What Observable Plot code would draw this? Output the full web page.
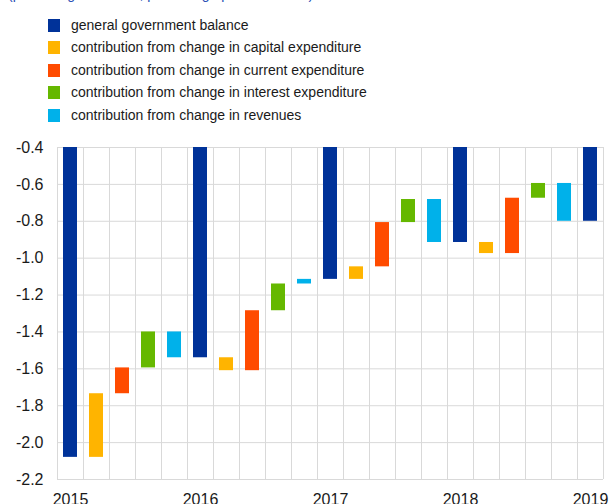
<!DOCTYPE html>
<html><head><meta charset="utf-8">
<script src="https://cdn.jsdelivr.net/npm/d3@7"></script>
<script src="https://cdn.jsdelivr.net/npm/@observablehq/plot@0.6"></script>
<style>
body{margin:0;background:#fff;font-family:"Liberation Sans",Arial,sans-serif;}
#wrap{position:relative;width:609px;height:504px;overflow:hidden}
#sub{position:absolute;left:8px;top:-14px;font-size:14px;color:#2a4fb5;white-space:nowrap}
#legend{position:absolute;left:0;top:0;width:609px;height:135px}
.item{position:absolute;left:48px;height:16px;display:flex;align-items:center;font-size:14px;color:#1a1a1a;white-space:nowrap}
.sw{width:12px;height:13px;margin-right:11px;flex:none}
#chart{position:absolute;left:0;top:135px}
</style></head>
<body>
<div id="wrap">
  <div id="sub">(percentages of GDP; percentage points of GDP)</div>
  <div id="legend"></div>
  <div id="chart"></div>
</div>
<script>
const years = ["2015", "2016", "2017", "2018", "2019"];
const seriesNames = [
  "general government balance",
  "contribution from change in capital expenditure",
  "contribution from change in current expenditure",
  "contribution from change in interest expenditure",
  "contribution from change in revenues"
];
const colors = ["#003299", "#FFB400", "#FF4B00", "#65B800", "#00B1EA"];
const balance = [-2.08, -1.54, -1.115, -0.915, -0.80];
const capital = [0.345, -0.07, 0.068, -0.06];
const current = [0.14, 0.325, 0.24, 0.30];
const interest = [0.195, 0.145, 0.125, 0.08];
const revenues = [-0.14, 0.025, -0.233, -0.205];
const yTicks = [-2.2, -2.0, -1.8, -1.6, -1.4, -1.2, -1.0, -0.8, -0.6, -0.4];

// legend
const leg = document.getElementById("legend");
const rowY = [17, 39, 62, 84, 107];
seriesNames.forEach((s, i) => {
  const d = document.createElement("div");
  d.className = "item";
  d.style.top = rowY[i] + "px";
  d.innerHTML = `<span class="sw" style="background:${colors[i]}"></span><span>${s}</span>`;
  leg.appendChild(d);
});

// build waterfall rows
const contribs = [capital, current, interest, revenues];
const rows = [];
years.forEach((yr, i) => {
  const base = i * 5;
  rows.push({x: base, y1: 0, y2: balance[i], s: seriesNames[0]});
  if (i < contribs[0].length) {
    let cum = balance[i];
    contribs.forEach((arr, j) => {
      const v = arr[i];
      rows.push({x: base + 1 + j, y1: cum, y2: cum + v, s: seriesNames[j + 1]});
      cum += v;
    });
  }
});
const nBands = (years.length - 1) * 5 + 1;
const yearPos = years.map((d, i) => i * 5 + 0.5);

const chart = Plot.plot({
  width: 609,
  height: 369,
  marginLeft: 57,
  marginRight: 6,
  marginTop: 12,
  marginBottom: 25,
  style: {fontFamily: '"Liberation Sans", Arial, sans-serif', color: "#1a1a1a", background: "transparent"},
  x: {type: "linear", domain: [0, nBands], axis: null},
  y: {domain: [-2.2, -0.4], axis: null},
  color: {domain: seriesNames, range: colors},
  marks: [
    Plot.ruleY(yTicks, {stroke: "#d9d9d9", strokeWidth: 1}),
    Plot.ruleX(d3.range(0, nBands + 1), {stroke: "#d9d9d9", strokeWidth: 1}),
    Plot.rectY(rows, {
      x1: d => d.x, x2: d => d.x + 1, y1: "y1", y2: "y2",
      fill: "s", insetLeft: 6, insetRight: 6, clip: true
    }),
    Plot.axisY(yTicks, {tickSize: 0, tickPadding: 14, fontSize: 16, tickFormat: d => d.toFixed(1), fill: "#1a1a1a"}),
    Plot.axisX(yearPos, {tickSize: 0, tickPadding: 14, fontSize: 16, tickFormat: d => years[Math.round((d - 0.5) / 5)], fill: "#1a1a1a"})
  ]
});
document.getElementById("chart").appendChild(chart);
</script>
</body></html>
